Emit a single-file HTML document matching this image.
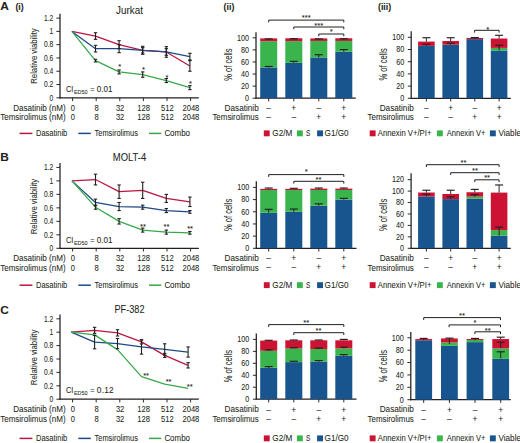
<!DOCTYPE html>
<html><head><meta charset="utf-8"><style>
html,body{margin:0;padding:0;background:#fff;}
svg{display:block;}
text{font-family:"Liberation Sans", sans-serif;fill:#231f20;stroke:#231f20;stroke-width:0.06px;}
</style></head><body>
<svg width="520" height="443" viewBox="0 0 520 443">
<rect width="520" height="443" fill="#fff"/>
<text x="0.20" y="10.10" font-size="10.6" text-anchor="start" font-weight="bold" textLength="8.6" lengthAdjust="spacingAndGlyphs">A</text>
<text x="15.40" y="9.60" font-size="8.8" text-anchor="start" font-weight="bold">(i)</text>
<text x="129.50" y="13.60" font-size="10.0" text-anchor="middle" textLength="26.8" lengthAdjust="spacingAndGlyphs">Jurkat</text>
<line x1="60.00" y1="13.80" x2="60.00" y2="98.40" stroke="#231f20" stroke-width="1.25"/>
<line x1="56.40" y1="97.80" x2="60.00" y2="97.80" stroke="#231f20" stroke-width="0.95"/>
<text x="53.30" y="100.60" font-size="8.2" text-anchor="end" textLength="3.73" lengthAdjust="spacingAndGlyphs">0</text>
<line x1="56.40" y1="84.52" x2="60.00" y2="84.52" stroke="#231f20" stroke-width="0.95"/>
<text x="53.30" y="87.32" font-size="8.2" text-anchor="end" textLength="9.31" lengthAdjust="spacingAndGlyphs">0.2</text>
<line x1="56.40" y1="71.24" x2="60.00" y2="71.24" stroke="#231f20" stroke-width="0.95"/>
<text x="53.30" y="74.04" font-size="8.2" text-anchor="end" textLength="9.31" lengthAdjust="spacingAndGlyphs">0.4</text>
<line x1="56.40" y1="57.96" x2="60.00" y2="57.96" stroke="#231f20" stroke-width="0.95"/>
<text x="53.30" y="60.76" font-size="8.2" text-anchor="end" textLength="9.31" lengthAdjust="spacingAndGlyphs">0.6</text>
<line x1="56.40" y1="44.68" x2="60.00" y2="44.68" stroke="#231f20" stroke-width="0.95"/>
<text x="53.30" y="47.48" font-size="8.2" text-anchor="end" textLength="9.31" lengthAdjust="spacingAndGlyphs">0.8</text>
<line x1="56.40" y1="31.40" x2="60.00" y2="31.40" stroke="#231f20" stroke-width="0.95"/>
<text x="53.30" y="34.20" font-size="8.2" text-anchor="end" textLength="3.73" lengthAdjust="spacingAndGlyphs">1</text>
<line x1="56.40" y1="18.12" x2="60.00" y2="18.12" stroke="#231f20" stroke-width="0.95"/>
<text x="53.30" y="20.92" font-size="8.2" text-anchor="end" textLength="9.31" lengthAdjust="spacingAndGlyphs">1.2</text>
<line x1="59.40" y1="97.80" x2="198.80" y2="97.80" stroke="#231f20" stroke-width="1.25"/>
<line x1="72.60" y1="97.80" x2="72.60" y2="101.00" stroke="#231f20" stroke-width="0.95"/>
<line x1="96.20" y1="97.80" x2="96.20" y2="101.00" stroke="#231f20" stroke-width="0.95"/>
<line x1="119.80" y1="97.80" x2="119.80" y2="101.00" stroke="#231f20" stroke-width="0.95"/>
<line x1="143.40" y1="97.80" x2="143.40" y2="101.00" stroke="#231f20" stroke-width="0.95"/>
<line x1="167.00" y1="97.80" x2="167.00" y2="101.00" stroke="#231f20" stroke-width="0.95"/>
<line x1="190.60" y1="97.80" x2="190.60" y2="101.00" stroke="#231f20" stroke-width="0.95"/>
<text transform="translate(37.00,56.00) rotate(-90)" font-size="8.6" text-anchor="middle" textLength="55.5" lengthAdjust="spacingAndGlyphs">Relative viability</text>
<text x="65.60" y="110.60" font-size="8.2" text-anchor="end" textLength="52.4" lengthAdjust="spacingAndGlyphs">Dasatinib (nM)</text>
<text x="65.60" y="120.40" font-size="8.2" text-anchor="end" textLength="65.4" lengthAdjust="spacingAndGlyphs">Temsirolimus (nM)</text>
<text x="72.90" y="110.60" font-size="8.2" text-anchor="middle" textLength="4.23" lengthAdjust="spacingAndGlyphs">0</text>
<text x="72.90" y="120.40" font-size="8.2" text-anchor="middle" textLength="4.23" lengthAdjust="spacingAndGlyphs">0</text>
<text x="96.50" y="110.60" font-size="8.2" text-anchor="middle" textLength="4.23" lengthAdjust="spacingAndGlyphs">8</text>
<text x="96.50" y="120.40" font-size="8.2" text-anchor="middle" textLength="4.23" lengthAdjust="spacingAndGlyphs">8</text>
<text x="120.10" y="110.60" font-size="8.2" text-anchor="middle" textLength="8.45" lengthAdjust="spacingAndGlyphs">32</text>
<text x="120.10" y="120.40" font-size="8.2" text-anchor="middle" textLength="8.45" lengthAdjust="spacingAndGlyphs">32</text>
<text x="143.70" y="110.60" font-size="8.2" text-anchor="middle" textLength="12.68" lengthAdjust="spacingAndGlyphs">128</text>
<text x="143.70" y="120.40" font-size="8.2" text-anchor="middle" textLength="12.68" lengthAdjust="spacingAndGlyphs">128</text>
<text x="167.30" y="110.60" font-size="8.2" text-anchor="middle" textLength="12.68" lengthAdjust="spacingAndGlyphs">512</text>
<text x="167.30" y="120.40" font-size="8.2" text-anchor="middle" textLength="12.68" lengthAdjust="spacingAndGlyphs">512</text>
<text x="190.90" y="110.60" font-size="8.2" text-anchor="middle" textLength="16.91" lengthAdjust="spacingAndGlyphs">2048</text>
<text x="190.90" y="120.40" font-size="8.2" text-anchor="middle" textLength="16.91" lengthAdjust="spacingAndGlyphs">2048</text>
<text x="65.90" y="92.00" font-size="8.3" text-anchor="start" textLength="7.3" lengthAdjust="spacingAndGlyphs">CI</text>
<text x="73.90" y="94.00" font-size="5.9" text-anchor="start" textLength="13.6" lengthAdjust="spacingAndGlyphs">ED50</text>
<text x="90.30" y="92.00" font-size="8.3" text-anchor="start" textLength="4.3" lengthAdjust="spacingAndGlyphs">=</text>
<text x="96.80" y="92.00" font-size="8.3" text-anchor="start" textLength="15.7" lengthAdjust="spacingAndGlyphs">0.01</text>
<polyline points="71.90,31.40 95.50,36.05 119.10,44.68 142.70,50.32 166.30,51.98 189.90,65.93" fill="none" stroke="#bd1640" stroke-width="1.25" stroke-linejoin="round"/>
<polyline points="71.90,31.40 95.50,48.66 119.10,48.66 142.70,50.32 166.30,51.98 189.90,56.63" fill="none" stroke="#1c4b82" stroke-width="1.25" stroke-linejoin="round"/>
<polyline points="71.90,31.40 95.50,60.62 119.10,71.90 142.70,74.56 166.30,80.54 189.90,87.64" fill="none" stroke="#36a84a" stroke-width="1.25" stroke-linejoin="round"/>
<line x1="95.50" y1="32.73" x2="95.50" y2="39.37" stroke="#231f20" stroke-width="1.1"/>
<line x1="93.80" y1="32.73" x2="97.20" y2="32.73" stroke="#231f20" stroke-width="1.1"/>
<line x1="93.80" y1="39.37" x2="97.20" y2="39.37" stroke="#231f20" stroke-width="1.1"/>
<line x1="119.10" y1="40.70" x2="119.10" y2="48.66" stroke="#231f20" stroke-width="1.1"/>
<line x1="117.40" y1="40.70" x2="120.80" y2="40.70" stroke="#231f20" stroke-width="1.1"/>
<line x1="117.40" y1="48.66" x2="120.80" y2="48.66" stroke="#231f20" stroke-width="1.1"/>
<line x1="142.70" y1="46.34" x2="142.70" y2="54.31" stroke="#231f20" stroke-width="1.1"/>
<line x1="141.00" y1="46.34" x2="144.40" y2="46.34" stroke="#231f20" stroke-width="1.1"/>
<line x1="141.00" y1="54.31" x2="144.40" y2="54.31" stroke="#231f20" stroke-width="1.1"/>
<line x1="166.30" y1="46.67" x2="166.30" y2="57.30" stroke="#231f20" stroke-width="1.1"/>
<line x1="164.60" y1="46.67" x2="168.00" y2="46.67" stroke="#231f20" stroke-width="1.1"/>
<line x1="164.60" y1="57.30" x2="168.00" y2="57.30" stroke="#231f20" stroke-width="1.1"/>
<line x1="189.90" y1="60.62" x2="189.90" y2="71.24" stroke="#231f20" stroke-width="1.1"/>
<line x1="188.20" y1="60.62" x2="191.60" y2="60.62" stroke="#231f20" stroke-width="1.1"/>
<line x1="188.20" y1="71.24" x2="191.60" y2="71.24" stroke="#231f20" stroke-width="1.1"/>
<line x1="95.50" y1="45.34" x2="95.50" y2="51.98" stroke="#231f20" stroke-width="1.1"/>
<line x1="93.80" y1="45.34" x2="97.20" y2="45.34" stroke="#231f20" stroke-width="1.1"/>
<line x1="93.80" y1="51.98" x2="97.20" y2="51.98" stroke="#231f20" stroke-width="1.1"/>
<line x1="119.10" y1="44.68" x2="119.10" y2="52.65" stroke="#231f20" stroke-width="1.1"/>
<line x1="117.40" y1="44.68" x2="120.80" y2="44.68" stroke="#231f20" stroke-width="1.1"/>
<line x1="117.40" y1="52.65" x2="120.80" y2="52.65" stroke="#231f20" stroke-width="1.1"/>
<line x1="142.70" y1="47.67" x2="142.70" y2="52.98" stroke="#231f20" stroke-width="1.1"/>
<line x1="141.00" y1="47.67" x2="144.40" y2="47.67" stroke="#231f20" stroke-width="1.1"/>
<line x1="141.00" y1="52.98" x2="144.40" y2="52.98" stroke="#231f20" stroke-width="1.1"/>
<line x1="166.30" y1="48.66" x2="166.30" y2="55.30" stroke="#231f20" stroke-width="1.1"/>
<line x1="164.60" y1="48.66" x2="168.00" y2="48.66" stroke="#231f20" stroke-width="1.1"/>
<line x1="164.60" y1="55.30" x2="168.00" y2="55.30" stroke="#231f20" stroke-width="1.1"/>
<line x1="189.90" y1="53.31" x2="189.90" y2="59.95" stroke="#231f20" stroke-width="1.1"/>
<line x1="188.20" y1="53.31" x2="191.60" y2="53.31" stroke="#231f20" stroke-width="1.1"/>
<line x1="188.20" y1="59.95" x2="191.60" y2="59.95" stroke="#231f20" stroke-width="1.1"/>
<line x1="95.50" y1="59.29" x2="95.50" y2="61.94" stroke="#231f20" stroke-width="1.1"/>
<line x1="93.80" y1="59.29" x2="97.20" y2="59.29" stroke="#231f20" stroke-width="1.1"/>
<line x1="93.80" y1="61.94" x2="97.20" y2="61.94" stroke="#231f20" stroke-width="1.1"/>
<line x1="119.10" y1="69.91" x2="119.10" y2="73.90" stroke="#231f20" stroke-width="1.1"/>
<line x1="117.40" y1="69.91" x2="120.80" y2="69.91" stroke="#231f20" stroke-width="1.1"/>
<line x1="117.40" y1="73.90" x2="120.80" y2="73.90" stroke="#231f20" stroke-width="1.1"/>
<line x1="142.70" y1="71.90" x2="142.70" y2="77.22" stroke="#231f20" stroke-width="1.1"/>
<line x1="141.00" y1="71.90" x2="144.40" y2="71.90" stroke="#231f20" stroke-width="1.1"/>
<line x1="141.00" y1="77.22" x2="144.40" y2="77.22" stroke="#231f20" stroke-width="1.1"/>
<line x1="166.30" y1="78.54" x2="166.30" y2="82.53" stroke="#231f20" stroke-width="1.1"/>
<line x1="164.60" y1="78.54" x2="168.00" y2="78.54" stroke="#231f20" stroke-width="1.1"/>
<line x1="164.60" y1="82.53" x2="168.00" y2="82.53" stroke="#231f20" stroke-width="1.1"/>
<line x1="189.90" y1="85.65" x2="189.90" y2="89.63" stroke="#231f20" stroke-width="1.1"/>
<line x1="188.20" y1="85.65" x2="191.60" y2="85.65" stroke="#231f20" stroke-width="1.1"/>
<line x1="188.20" y1="89.63" x2="191.60" y2="89.63" stroke="#231f20" stroke-width="1.1"/>
<text x="119.80" y="68.98" font-size="7.6" text-anchor="middle">*</text>
<text x="143.40" y="72.08" font-size="7.6" text-anchor="middle">*</text>
<text x="167.00" y="79.58" font-size="7.6" text-anchor="middle">*</text>
<text x="190.60" y="86.28" font-size="7.6" text-anchor="middle">*</text>
<line x1="19.50" y1="133.40" x2="32.40" y2="133.40" stroke="#bd1640" stroke-width="1.5"/>
<text x="36.00" y="136.20" font-size="8.2" text-anchor="start" textLength="31.3" lengthAdjust="spacingAndGlyphs">Dasatinib</text>
<line x1="78.30" y1="133.40" x2="90.80" y2="133.40" stroke="#1c4b82" stroke-width="1.5"/>
<text x="94.60" y="136.20" font-size="8.2" text-anchor="start" textLength="43.3" lengthAdjust="spacingAndGlyphs">Temsirolimus</text>
<line x1="149.00" y1="133.40" x2="161.30" y2="133.40" stroke="#36a84a" stroke-width="1.5"/>
<text x="164.40" y="136.20" font-size="8.2" text-anchor="start" textLength="25.6" lengthAdjust="spacingAndGlyphs">Combo</text>
<text x="0.20" y="161.30" font-size="10.6" text-anchor="start" font-weight="bold" textLength="8.6" lengthAdjust="spacingAndGlyphs">B</text>
<text x="129.50" y="160.90" font-size="10.0" text-anchor="middle" textLength="33.4" lengthAdjust="spacingAndGlyphs">MOLT-4</text>
<line x1="60.00" y1="163.04" x2="60.00" y2="248.90" stroke="#231f20" stroke-width="1.25"/>
<line x1="56.40" y1="248.30" x2="60.00" y2="248.30" stroke="#231f20" stroke-width="0.95"/>
<text x="53.30" y="251.10" font-size="8.2" text-anchor="end" textLength="3.73" lengthAdjust="spacingAndGlyphs">0</text>
<line x1="56.40" y1="234.82" x2="60.00" y2="234.82" stroke="#231f20" stroke-width="0.95"/>
<text x="53.30" y="237.62" font-size="8.2" text-anchor="end" textLength="9.31" lengthAdjust="spacingAndGlyphs">0.2</text>
<line x1="56.40" y1="221.34" x2="60.00" y2="221.34" stroke="#231f20" stroke-width="0.95"/>
<text x="53.30" y="224.14" font-size="8.2" text-anchor="end" textLength="9.31" lengthAdjust="spacingAndGlyphs">0.4</text>
<line x1="56.40" y1="207.86" x2="60.00" y2="207.86" stroke="#231f20" stroke-width="0.95"/>
<text x="53.30" y="210.66" font-size="8.2" text-anchor="end" textLength="9.31" lengthAdjust="spacingAndGlyphs">0.6</text>
<line x1="56.40" y1="194.38" x2="60.00" y2="194.38" stroke="#231f20" stroke-width="0.95"/>
<text x="53.30" y="197.18" font-size="8.2" text-anchor="end" textLength="9.31" lengthAdjust="spacingAndGlyphs">0.8</text>
<line x1="56.40" y1="180.90" x2="60.00" y2="180.90" stroke="#231f20" stroke-width="0.95"/>
<text x="53.30" y="183.70" font-size="8.2" text-anchor="end" textLength="3.73" lengthAdjust="spacingAndGlyphs">1</text>
<line x1="56.40" y1="167.42" x2="60.00" y2="167.42" stroke="#231f20" stroke-width="0.95"/>
<text x="53.30" y="170.22" font-size="8.2" text-anchor="end" textLength="9.31" lengthAdjust="spacingAndGlyphs">1.2</text>
<line x1="59.40" y1="248.30" x2="198.80" y2="248.30" stroke="#231f20" stroke-width="1.25"/>
<line x1="72.60" y1="248.30" x2="72.60" y2="251.50" stroke="#231f20" stroke-width="0.95"/>
<line x1="96.20" y1="248.30" x2="96.20" y2="251.50" stroke="#231f20" stroke-width="0.95"/>
<line x1="119.80" y1="248.30" x2="119.80" y2="251.50" stroke="#231f20" stroke-width="0.95"/>
<line x1="143.40" y1="248.30" x2="143.40" y2="251.50" stroke="#231f20" stroke-width="0.95"/>
<line x1="167.00" y1="248.30" x2="167.00" y2="251.50" stroke="#231f20" stroke-width="0.95"/>
<line x1="190.60" y1="248.30" x2="190.60" y2="251.50" stroke="#231f20" stroke-width="0.95"/>
<text transform="translate(37.00,206.50) rotate(-90)" font-size="8.6" text-anchor="middle" textLength="55.5" lengthAdjust="spacingAndGlyphs">Relative viability</text>
<text x="65.60" y="260.90" font-size="8.2" text-anchor="end" textLength="52.4" lengthAdjust="spacingAndGlyphs">Dasatinib (nM)</text>
<text x="65.60" y="270.70" font-size="8.2" text-anchor="end" textLength="65.4" lengthAdjust="spacingAndGlyphs">Temsirolimus (nM)</text>
<text x="72.90" y="260.90" font-size="8.2" text-anchor="middle" textLength="4.23" lengthAdjust="spacingAndGlyphs">0</text>
<text x="72.90" y="270.70" font-size="8.2" text-anchor="middle" textLength="4.23" lengthAdjust="spacingAndGlyphs">0</text>
<text x="96.50" y="260.90" font-size="8.2" text-anchor="middle" textLength="4.23" lengthAdjust="spacingAndGlyphs">8</text>
<text x="96.50" y="270.70" font-size="8.2" text-anchor="middle" textLength="4.23" lengthAdjust="spacingAndGlyphs">8</text>
<text x="120.10" y="260.90" font-size="8.2" text-anchor="middle" textLength="8.45" lengthAdjust="spacingAndGlyphs">32</text>
<text x="120.10" y="270.70" font-size="8.2" text-anchor="middle" textLength="8.45" lengthAdjust="spacingAndGlyphs">32</text>
<text x="143.70" y="260.90" font-size="8.2" text-anchor="middle" textLength="12.68" lengthAdjust="spacingAndGlyphs">128</text>
<text x="143.70" y="270.70" font-size="8.2" text-anchor="middle" textLength="12.68" lengthAdjust="spacingAndGlyphs">128</text>
<text x="167.30" y="260.90" font-size="8.2" text-anchor="middle" textLength="12.68" lengthAdjust="spacingAndGlyphs">512</text>
<text x="167.30" y="270.70" font-size="8.2" text-anchor="middle" textLength="12.68" lengthAdjust="spacingAndGlyphs">512</text>
<text x="190.90" y="260.90" font-size="8.2" text-anchor="middle" textLength="16.91" lengthAdjust="spacingAndGlyphs">2048</text>
<text x="190.90" y="270.70" font-size="8.2" text-anchor="middle" textLength="16.91" lengthAdjust="spacingAndGlyphs">2048</text>
<text x="65.90" y="242.50" font-size="8.3" text-anchor="start" textLength="7.3" lengthAdjust="spacingAndGlyphs">CI</text>
<text x="73.90" y="244.50" font-size="5.9" text-anchor="start" textLength="13.6" lengthAdjust="spacingAndGlyphs">ED50</text>
<text x="90.30" y="242.50" font-size="8.3" text-anchor="start" textLength="4.3" lengthAdjust="spacingAndGlyphs">=</text>
<text x="96.80" y="242.50" font-size="8.3" text-anchor="start" textLength="15.7" lengthAdjust="spacingAndGlyphs">0.01</text>
<polyline points="71.90,180.90 95.50,179.55 119.10,191.68 142.70,190.34 166.30,198.42 189.90,201.79" fill="none" stroke="#bd1640" stroke-width="1.25" stroke-linejoin="round"/>
<polyline points="71.90,180.90 95.50,202.47 119.10,206.51 142.70,207.19 166.30,210.56 189.90,211.90" fill="none" stroke="#1c4b82" stroke-width="1.25" stroke-linejoin="round"/>
<polyline points="71.90,180.90 95.50,207.19 119.10,221.34 142.70,230.10 166.30,232.12 189.90,232.80" fill="none" stroke="#36a84a" stroke-width="1.25" stroke-linejoin="round"/>
<line x1="95.50" y1="174.16" x2="95.50" y2="184.94" stroke="#231f20" stroke-width="1.1"/>
<line x1="93.80" y1="174.16" x2="97.20" y2="174.16" stroke="#231f20" stroke-width="1.1"/>
<line x1="93.80" y1="184.94" x2="97.20" y2="184.94" stroke="#231f20" stroke-width="1.1"/>
<line x1="119.10" y1="184.94" x2="119.10" y2="198.42" stroke="#231f20" stroke-width="1.1"/>
<line x1="117.40" y1="184.94" x2="120.80" y2="184.94" stroke="#231f20" stroke-width="1.1"/>
<line x1="117.40" y1="198.42" x2="120.80" y2="198.42" stroke="#231f20" stroke-width="1.1"/>
<line x1="142.70" y1="182.25" x2="142.70" y2="198.42" stroke="#231f20" stroke-width="1.1"/>
<line x1="141.00" y1="182.25" x2="144.40" y2="182.25" stroke="#231f20" stroke-width="1.1"/>
<line x1="141.00" y1="198.42" x2="144.40" y2="198.42" stroke="#231f20" stroke-width="1.1"/>
<line x1="166.30" y1="194.38" x2="166.30" y2="202.47" stroke="#231f20" stroke-width="1.1"/>
<line x1="164.60" y1="194.38" x2="168.00" y2="194.38" stroke="#231f20" stroke-width="1.1"/>
<line x1="164.60" y1="202.47" x2="168.00" y2="202.47" stroke="#231f20" stroke-width="1.1"/>
<line x1="189.90" y1="197.08" x2="189.90" y2="206.51" stroke="#231f20" stroke-width="1.1"/>
<line x1="188.20" y1="197.08" x2="191.60" y2="197.08" stroke="#231f20" stroke-width="1.1"/>
<line x1="188.20" y1="206.51" x2="191.60" y2="206.51" stroke="#231f20" stroke-width="1.1"/>
<line x1="95.50" y1="199.10" x2="95.50" y2="205.84" stroke="#231f20" stroke-width="1.1"/>
<line x1="93.80" y1="199.10" x2="97.20" y2="199.10" stroke="#231f20" stroke-width="1.1"/>
<line x1="93.80" y1="205.84" x2="97.20" y2="205.84" stroke="#231f20" stroke-width="1.1"/>
<line x1="119.10" y1="202.47" x2="119.10" y2="210.56" stroke="#231f20" stroke-width="1.1"/>
<line x1="117.40" y1="202.47" x2="120.80" y2="202.47" stroke="#231f20" stroke-width="1.1"/>
<line x1="117.40" y1="210.56" x2="120.80" y2="210.56" stroke="#231f20" stroke-width="1.1"/>
<line x1="142.70" y1="205.16" x2="142.70" y2="209.21" stroke="#231f20" stroke-width="1.1"/>
<line x1="141.00" y1="205.16" x2="144.40" y2="205.16" stroke="#231f20" stroke-width="1.1"/>
<line x1="141.00" y1="209.21" x2="144.40" y2="209.21" stroke="#231f20" stroke-width="1.1"/>
<line x1="166.30" y1="208.53" x2="166.30" y2="212.58" stroke="#231f20" stroke-width="1.1"/>
<line x1="164.60" y1="208.53" x2="168.00" y2="208.53" stroke="#231f20" stroke-width="1.1"/>
<line x1="164.60" y1="212.58" x2="168.00" y2="212.58" stroke="#231f20" stroke-width="1.1"/>
<line x1="189.90" y1="210.56" x2="189.90" y2="213.25" stroke="#231f20" stroke-width="1.1"/>
<line x1="188.20" y1="210.56" x2="191.60" y2="210.56" stroke="#231f20" stroke-width="1.1"/>
<line x1="188.20" y1="213.25" x2="191.60" y2="213.25" stroke="#231f20" stroke-width="1.1"/>
<line x1="95.50" y1="205.16" x2="95.50" y2="209.21" stroke="#231f20" stroke-width="1.1"/>
<line x1="93.80" y1="205.16" x2="97.20" y2="205.16" stroke="#231f20" stroke-width="1.1"/>
<line x1="93.80" y1="209.21" x2="97.20" y2="209.21" stroke="#231f20" stroke-width="1.1"/>
<line x1="119.10" y1="218.64" x2="119.10" y2="224.04" stroke="#231f20" stroke-width="1.1"/>
<line x1="117.40" y1="218.64" x2="120.80" y2="218.64" stroke="#231f20" stroke-width="1.1"/>
<line x1="117.40" y1="224.04" x2="120.80" y2="224.04" stroke="#231f20" stroke-width="1.1"/>
<line x1="142.70" y1="228.08" x2="142.70" y2="232.12" stroke="#231f20" stroke-width="1.1"/>
<line x1="141.00" y1="228.08" x2="144.40" y2="228.08" stroke="#231f20" stroke-width="1.1"/>
<line x1="141.00" y1="232.12" x2="144.40" y2="232.12" stroke="#231f20" stroke-width="1.1"/>
<line x1="166.30" y1="230.10" x2="166.30" y2="234.15" stroke="#231f20" stroke-width="1.1"/>
<line x1="164.60" y1="230.10" x2="168.00" y2="230.10" stroke="#231f20" stroke-width="1.1"/>
<line x1="164.60" y1="234.15" x2="168.00" y2="234.15" stroke="#231f20" stroke-width="1.1"/>
<line x1="189.90" y1="231.45" x2="189.90" y2="234.15" stroke="#231f20" stroke-width="1.1"/>
<line x1="188.20" y1="231.45" x2="191.60" y2="231.45" stroke="#231f20" stroke-width="1.1"/>
<line x1="188.20" y1="234.15" x2="191.60" y2="234.15" stroke="#231f20" stroke-width="1.1"/>
<text x="142.90" y="228.58" font-size="7.6" text-anchor="middle">**</text>
<text x="166.50" y="228.78" font-size="7.6" text-anchor="middle">**</text>
<text x="190.10" y="231.38" font-size="7.6" text-anchor="middle">**</text>
<line x1="19.50" y1="285.20" x2="32.40" y2="285.20" stroke="#bd1640" stroke-width="1.5"/>
<text x="36.00" y="288.00" font-size="8.2" text-anchor="start" textLength="31.3" lengthAdjust="spacingAndGlyphs">Dasatinib</text>
<line x1="78.30" y1="285.20" x2="90.80" y2="285.20" stroke="#1c4b82" stroke-width="1.5"/>
<text x="94.60" y="288.00" font-size="8.2" text-anchor="start" textLength="43.3" lengthAdjust="spacingAndGlyphs">Temsirolimus</text>
<line x1="149.00" y1="285.20" x2="161.30" y2="285.20" stroke="#36a84a" stroke-width="1.5"/>
<text x="164.40" y="288.00" font-size="8.2" text-anchor="start" textLength="25.6" lengthAdjust="spacingAndGlyphs">Combo</text>
<text x="0.20" y="313.90" font-size="10.6" text-anchor="start" font-weight="bold" textLength="8.6" lengthAdjust="spacingAndGlyphs">C</text>
<text x="129.50" y="312.70" font-size="10.0" text-anchor="middle" textLength="30.0" lengthAdjust="spacingAndGlyphs">PF-382</text>
<line x1="60.00" y1="314.44" x2="60.00" y2="399.80" stroke="#231f20" stroke-width="1.25"/>
<line x1="56.40" y1="399.20" x2="60.00" y2="399.20" stroke="#231f20" stroke-width="0.95"/>
<text x="53.30" y="402.00" font-size="8.2" text-anchor="end" textLength="3.73" lengthAdjust="spacingAndGlyphs">0</text>
<line x1="56.40" y1="385.80" x2="60.00" y2="385.80" stroke="#231f20" stroke-width="0.95"/>
<text x="53.30" y="388.60" font-size="8.2" text-anchor="end" textLength="9.31" lengthAdjust="spacingAndGlyphs">0.2</text>
<line x1="56.40" y1="372.40" x2="60.00" y2="372.40" stroke="#231f20" stroke-width="0.95"/>
<text x="53.30" y="375.20" font-size="8.2" text-anchor="end" textLength="9.31" lengthAdjust="spacingAndGlyphs">0.4</text>
<line x1="56.40" y1="359.00" x2="60.00" y2="359.00" stroke="#231f20" stroke-width="0.95"/>
<text x="53.30" y="361.80" font-size="8.2" text-anchor="end" textLength="9.31" lengthAdjust="spacingAndGlyphs">0.6</text>
<line x1="56.40" y1="345.60" x2="60.00" y2="345.60" stroke="#231f20" stroke-width="0.95"/>
<text x="53.30" y="348.40" font-size="8.2" text-anchor="end" textLength="9.31" lengthAdjust="spacingAndGlyphs">0.8</text>
<line x1="56.40" y1="332.20" x2="60.00" y2="332.20" stroke="#231f20" stroke-width="0.95"/>
<text x="53.30" y="335.00" font-size="8.2" text-anchor="end" textLength="3.73" lengthAdjust="spacingAndGlyphs">1</text>
<line x1="56.40" y1="318.80" x2="60.00" y2="318.80" stroke="#231f20" stroke-width="0.95"/>
<text x="53.30" y="321.60" font-size="8.2" text-anchor="end" textLength="9.31" lengthAdjust="spacingAndGlyphs">1.2</text>
<line x1="59.40" y1="399.20" x2="198.80" y2="399.20" stroke="#231f20" stroke-width="1.25"/>
<line x1="72.60" y1="399.20" x2="72.60" y2="402.40" stroke="#231f20" stroke-width="0.95"/>
<line x1="96.20" y1="399.20" x2="96.20" y2="402.40" stroke="#231f20" stroke-width="0.95"/>
<line x1="119.80" y1="399.20" x2="119.80" y2="402.40" stroke="#231f20" stroke-width="0.95"/>
<line x1="143.40" y1="399.20" x2="143.40" y2="402.40" stroke="#231f20" stroke-width="0.95"/>
<line x1="167.00" y1="399.20" x2="167.00" y2="402.40" stroke="#231f20" stroke-width="0.95"/>
<line x1="190.60" y1="399.20" x2="190.60" y2="402.40" stroke="#231f20" stroke-width="0.95"/>
<text transform="translate(37.00,357.40) rotate(-90)" font-size="8.6" text-anchor="middle" textLength="55.5" lengthAdjust="spacingAndGlyphs">Relative viability</text>
<text x="65.60" y="411.80" font-size="8.2" text-anchor="end" textLength="52.4" lengthAdjust="spacingAndGlyphs">Dasatinib (nM)</text>
<text x="65.60" y="421.60" font-size="8.2" text-anchor="end" textLength="65.4" lengthAdjust="spacingAndGlyphs">Temsirolimus (nM)</text>
<text x="72.90" y="411.80" font-size="8.2" text-anchor="middle" textLength="4.23" lengthAdjust="spacingAndGlyphs">0</text>
<text x="72.90" y="421.60" font-size="8.2" text-anchor="middle" textLength="4.23" lengthAdjust="spacingAndGlyphs">0</text>
<text x="96.50" y="411.80" font-size="8.2" text-anchor="middle" textLength="4.23" lengthAdjust="spacingAndGlyphs">8</text>
<text x="96.50" y="421.60" font-size="8.2" text-anchor="middle" textLength="4.23" lengthAdjust="spacingAndGlyphs">8</text>
<text x="120.10" y="411.80" font-size="8.2" text-anchor="middle" textLength="8.45" lengthAdjust="spacingAndGlyphs">32</text>
<text x="120.10" y="421.60" font-size="8.2" text-anchor="middle" textLength="8.45" lengthAdjust="spacingAndGlyphs">32</text>
<text x="143.70" y="411.80" font-size="8.2" text-anchor="middle" textLength="12.68" lengthAdjust="spacingAndGlyphs">128</text>
<text x="143.70" y="421.60" font-size="8.2" text-anchor="middle" textLength="12.68" lengthAdjust="spacingAndGlyphs">128</text>
<text x="167.30" y="411.80" font-size="8.2" text-anchor="middle" textLength="12.68" lengthAdjust="spacingAndGlyphs">512</text>
<text x="167.30" y="421.60" font-size="8.2" text-anchor="middle" textLength="12.68" lengthAdjust="spacingAndGlyphs">512</text>
<text x="190.90" y="411.80" font-size="8.2" text-anchor="middle" textLength="16.91" lengthAdjust="spacingAndGlyphs">2048</text>
<text x="190.90" y="421.60" font-size="8.2" text-anchor="middle" textLength="16.91" lengthAdjust="spacingAndGlyphs">2048</text>
<text x="65.90" y="393.40" font-size="8.3" text-anchor="start" textLength="7.3" lengthAdjust="spacingAndGlyphs">CI</text>
<text x="73.90" y="395.40" font-size="5.9" text-anchor="start" textLength="13.6" lengthAdjust="spacingAndGlyphs">ED50</text>
<text x="90.30" y="393.40" font-size="8.3" text-anchor="start" textLength="4.3" lengthAdjust="spacingAndGlyphs">=</text>
<text x="96.80" y="393.40" font-size="8.3" text-anchor="start" textLength="16.8" lengthAdjust="spacing">0.12</text>
<polyline points="71.20,332.20 94.60,330.32 117.50,332.87 141.50,341.91 164.70,355.38 188.10,365.30" fill="none" stroke="#bd1640" stroke-width="1.25" stroke-linejoin="round"/>
<polyline points="71.20,332.20 94.60,342.12 117.50,343.59 141.50,346.94 164.70,349.49 188.10,352.03" fill="none" stroke="#1c4b82" stroke-width="1.25" stroke-linejoin="round"/>
<polyline points="71.20,332.20 94.60,334.88 117.50,349.62 141.50,376.62 164.70,384.19 188.10,388.48" fill="none" stroke="#36a84a" stroke-width="1.25" stroke-linejoin="round"/>
<line x1="94.60" y1="327.31" x2="94.60" y2="333.34" stroke="#231f20" stroke-width="1.1"/>
<line x1="92.90" y1="327.31" x2="96.30" y2="327.31" stroke="#231f20" stroke-width="1.1"/>
<line x1="92.90" y1="333.34" x2="96.30" y2="333.34" stroke="#231f20" stroke-width="1.1"/>
<line x1="117.50" y1="329.72" x2="117.50" y2="336.02" stroke="#231f20" stroke-width="1.1"/>
<line x1="115.80" y1="329.72" x2="119.20" y2="329.72" stroke="#231f20" stroke-width="1.1"/>
<line x1="115.80" y1="336.02" x2="119.20" y2="336.02" stroke="#231f20" stroke-width="1.1"/>
<line x1="141.50" y1="339.90" x2="141.50" y2="343.93" stroke="#231f20" stroke-width="1.1"/>
<line x1="139.80" y1="339.90" x2="143.20" y2="339.90" stroke="#231f20" stroke-width="1.1"/>
<line x1="139.80" y1="343.93" x2="143.20" y2="343.93" stroke="#231f20" stroke-width="1.1"/>
<line x1="164.70" y1="353.37" x2="164.70" y2="357.39" stroke="#231f20" stroke-width="1.1"/>
<line x1="163.00" y1="353.37" x2="166.40" y2="353.37" stroke="#231f20" stroke-width="1.1"/>
<line x1="163.00" y1="357.39" x2="166.40" y2="357.39" stroke="#231f20" stroke-width="1.1"/>
<line x1="188.10" y1="362.62" x2="188.10" y2="367.98" stroke="#231f20" stroke-width="1.1"/>
<line x1="186.40" y1="362.62" x2="189.80" y2="362.62" stroke="#231f20" stroke-width="1.1"/>
<line x1="186.40" y1="367.98" x2="189.80" y2="367.98" stroke="#231f20" stroke-width="1.1"/>
<line x1="94.60" y1="335.42" x2="94.60" y2="348.82" stroke="#231f20" stroke-width="1.1"/>
<line x1="92.90" y1="335.42" x2="96.30" y2="335.42" stroke="#231f20" stroke-width="1.1"/>
<line x1="92.90" y1="348.82" x2="96.30" y2="348.82" stroke="#231f20" stroke-width="1.1"/>
<line x1="117.50" y1="338.50" x2="117.50" y2="348.68" stroke="#231f20" stroke-width="1.1"/>
<line x1="115.80" y1="338.50" x2="119.20" y2="338.50" stroke="#231f20" stroke-width="1.1"/>
<line x1="115.80" y1="348.68" x2="119.20" y2="348.68" stroke="#231f20" stroke-width="1.1"/>
<line x1="141.50" y1="339.77" x2="141.50" y2="354.11" stroke="#231f20" stroke-width="1.1"/>
<line x1="139.80" y1="339.77" x2="143.20" y2="339.77" stroke="#231f20" stroke-width="1.1"/>
<line x1="139.80" y1="354.11" x2="143.20" y2="354.11" stroke="#231f20" stroke-width="1.1"/>
<line x1="164.70" y1="343.79" x2="164.70" y2="355.18" stroke="#231f20" stroke-width="1.1"/>
<line x1="163.00" y1="343.79" x2="166.40" y2="343.79" stroke="#231f20" stroke-width="1.1"/>
<line x1="163.00" y1="355.18" x2="166.40" y2="355.18" stroke="#231f20" stroke-width="1.1"/>
<line x1="188.10" y1="346.94" x2="188.10" y2="357.12" stroke="#231f20" stroke-width="1.1"/>
<line x1="186.40" y1="346.94" x2="189.80" y2="346.94" stroke="#231f20" stroke-width="1.1"/>
<line x1="186.40" y1="357.12" x2="189.80" y2="357.12" stroke="#231f20" stroke-width="1.1"/>
<text x="146.10" y="378.18" font-size="7.6" text-anchor="middle">**</text>
<text x="168.60" y="384.18" font-size="7.6" text-anchor="middle">**</text>
<text x="189.70" y="389.28" font-size="7.6" text-anchor="middle">**</text>
<line x1="19.50" y1="438.40" x2="32.40" y2="438.40" stroke="#bd1640" stroke-width="1.5"/>
<text x="36.00" y="441.20" font-size="8.2" text-anchor="start" textLength="31.3" lengthAdjust="spacingAndGlyphs">Dasatinib</text>
<line x1="78.30" y1="438.40" x2="90.80" y2="438.40" stroke="#1c4b82" stroke-width="1.5"/>
<text x="94.60" y="441.20" font-size="8.2" text-anchor="start" textLength="43.3" lengthAdjust="spacingAndGlyphs">Temsirolimus</text>
<line x1="149.00" y1="438.40" x2="161.30" y2="438.40" stroke="#36a84a" stroke-width="1.5"/>
<text x="164.40" y="441.20" font-size="8.2" text-anchor="start" textLength="25.6" lengthAdjust="spacingAndGlyphs">Combo</text>
<text x="223.60" y="9.60" font-size="8.8" text-anchor="start" font-weight="bold">(ii)</text>
<line x1="256.00" y1="32.30" x2="256.00" y2="98.80" stroke="#231f20" stroke-width="1.25"/>
<line x1="252.60" y1="98.20" x2="256.00" y2="98.20" stroke="#231f20" stroke-width="0.95"/>
<text x="249.00" y="101.00" font-size="8.2" text-anchor="end" textLength="4.0" lengthAdjust="spacingAndGlyphs">0</text>
<line x1="252.60" y1="86.12" x2="256.00" y2="86.12" stroke="#231f20" stroke-width="0.95"/>
<text x="249.00" y="88.92" font-size="8.2" text-anchor="end" textLength="8.01" lengthAdjust="spacingAndGlyphs">20</text>
<line x1="252.60" y1="74.04" x2="256.00" y2="74.04" stroke="#231f20" stroke-width="0.95"/>
<text x="249.00" y="76.84" font-size="8.2" text-anchor="end" textLength="8.01" lengthAdjust="spacingAndGlyphs">40</text>
<line x1="252.60" y1="61.96" x2="256.00" y2="61.96" stroke="#231f20" stroke-width="0.95"/>
<text x="249.00" y="64.76" font-size="8.2" text-anchor="end" textLength="8.01" lengthAdjust="spacingAndGlyphs">60</text>
<line x1="252.60" y1="49.88" x2="256.00" y2="49.88" stroke="#231f20" stroke-width="0.95"/>
<text x="249.00" y="52.68" font-size="8.2" text-anchor="end" textLength="8.01" lengthAdjust="spacingAndGlyphs">80</text>
<line x1="252.60" y1="37.80" x2="256.00" y2="37.80" stroke="#231f20" stroke-width="0.95"/>
<text x="249.00" y="40.60" font-size="8.2" text-anchor="end" textLength="12.01" lengthAdjust="spacingAndGlyphs">100</text>
<line x1="255.40" y1="98.20" x2="355.80" y2="98.20" stroke="#231f20" stroke-width="1.25"/>
<text transform="translate(231.70,64.60) rotate(-90)" font-size="10.0" text-anchor="middle" textLength="32.2" lengthAdjust="spacingAndGlyphs">% of cells</text>
<line x1="268.70" y1="98.20" x2="268.70" y2="101.40" stroke="#231f20" stroke-width="0.95"/>
<rect x="260.20" y="67.40" width="17.00" height="30.80" fill="#18548e"/>
<rect x="260.20" y="41.24" width="17.00" height="26.15" fill="#3ab54e"/>
<rect x="260.20" y="38.40" width="17.00" height="2.84" fill="#cd1333"/>
<line x1="293.80" y1="98.20" x2="293.80" y2="101.40" stroke="#231f20" stroke-width="0.95"/>
<rect x="285.30" y="62.87" width="17.00" height="35.33" fill="#18548e"/>
<rect x="285.30" y="41.12" width="17.00" height="21.74" fill="#3ab54e"/>
<rect x="285.30" y="38.28" width="17.00" height="2.84" fill="#cd1333"/>
<line x1="318.80" y1="98.20" x2="318.80" y2="101.40" stroke="#231f20" stroke-width="0.95"/>
<rect x="310.30" y="57.43" width="17.00" height="40.77" fill="#18548e"/>
<rect x="310.30" y="40.94" width="17.00" height="16.49" fill="#3ab54e"/>
<rect x="310.30" y="38.40" width="17.00" height="2.54" fill="#cd1333"/>
<line x1="343.80" y1="98.20" x2="343.80" y2="101.40" stroke="#231f20" stroke-width="0.95"/>
<rect x="335.30" y="51.69" width="17.00" height="46.51" fill="#18548e"/>
<rect x="335.30" y="40.94" width="17.00" height="10.75" fill="#3ab54e"/>
<rect x="335.30" y="38.28" width="17.00" height="2.66" fill="#cd1333"/>
<line x1="268.70" y1="38.89" x2="268.70" y2="39.91" stroke="#231f20" stroke-width="0.95"/>
<line x1="264.70" y1="38.89" x2="272.70" y2="38.89" stroke="#231f20" stroke-width="1.15"/>
<line x1="268.70" y1="66.49" x2="268.70" y2="67.40" stroke="#231f20" stroke-width="0.95"/>
<line x1="264.70" y1="66.49" x2="272.70" y2="66.49" stroke="#231f20" stroke-width="1.15"/>
<line x1="293.80" y1="38.71" x2="293.80" y2="39.91" stroke="#231f20" stroke-width="0.95"/>
<line x1="289.80" y1="38.71" x2="297.80" y2="38.71" stroke="#231f20" stroke-width="1.15"/>
<line x1="293.80" y1="61.36" x2="293.80" y2="62.87" stroke="#231f20" stroke-width="0.95"/>
<line x1="289.80" y1="61.36" x2="297.80" y2="61.36" stroke="#231f20" stroke-width="1.15"/>
<line x1="318.80" y1="38.89" x2="318.80" y2="39.91" stroke="#231f20" stroke-width="0.95"/>
<line x1="314.80" y1="38.89" x2="322.80" y2="38.89" stroke="#231f20" stroke-width="1.15"/>
<line x1="318.80" y1="54.71" x2="318.80" y2="57.43" stroke="#231f20" stroke-width="0.95"/>
<line x1="314.80" y1="54.71" x2="322.80" y2="54.71" stroke="#231f20" stroke-width="1.15"/>
<line x1="343.80" y1="38.71" x2="343.80" y2="39.91" stroke="#231f20" stroke-width="0.95"/>
<line x1="339.80" y1="38.71" x2="347.80" y2="38.71" stroke="#231f20" stroke-width="1.15"/>
<line x1="343.80" y1="49.58" x2="343.80" y2="51.69" stroke="#231f20" stroke-width="0.95"/>
<line x1="339.80" y1="49.58" x2="347.80" y2="49.58" stroke="#231f20" stroke-width="1.15"/>
<polyline points="268.70,22.40 268.70,20.10 343.80,20.10 343.80,22.40" fill="none" stroke="#231f20" stroke-width="1.0"/>
<text x="306.20" y="20.38" font-size="7.6" text-anchor="middle">***</text>
<polyline points="293.80,29.30 293.80,27.00 343.80,27.00 343.80,29.30" fill="none" stroke="#231f20" stroke-width="1.0"/>
<text x="318.80" y="27.68" font-size="7.6" text-anchor="middle">***</text>
<polyline points="318.80,36.30 318.80,34.00 343.80,34.00 343.80,36.30" fill="none" stroke="#231f20" stroke-width="1.0"/>
<text x="331.20" y="34.18" font-size="7.6" text-anchor="middle">*</text>
<text x="258.70" y="110.50" font-size="8.2" text-anchor="end" textLength="34.1" lengthAdjust="spacingAndGlyphs">Dasatinib</text>
<text x="258.70" y="120.30" font-size="8.2" text-anchor="end" textLength="46.3" lengthAdjust="spacingAndGlyphs">Temsirolimus</text>
<text x="268.70" y="110.50" font-size="8.4" text-anchor="middle">–</text>
<text x="268.70" y="120.00" font-size="8.4" text-anchor="middle">–</text>
<text x="293.80" y="110.50" font-size="8.4" text-anchor="middle">+</text>
<text x="293.80" y="120.00" font-size="8.4" text-anchor="middle">–</text>
<text x="318.80" y="110.50" font-size="8.4" text-anchor="middle">–</text>
<text x="318.80" y="120.00" font-size="8.4" text-anchor="middle">+</text>
<text x="343.80" y="110.50" font-size="8.4" text-anchor="middle">+</text>
<text x="343.80" y="120.00" font-size="8.4" text-anchor="middle">+</text>
<rect x="263.80" y="130.40" width="5.90" height="5.90" fill="#cd1333"/>
<text x="272.30" y="136.00" font-size="8.2" text-anchor="start" textLength="20.0" lengthAdjust="spacingAndGlyphs">G2/M</text>
<rect x="296.90" y="130.40" width="5.90" height="5.90" fill="#3ab54e"/>
<text x="306.00" y="136.00" font-size="8.2" text-anchor="start" textLength="4.4" lengthAdjust="spacingAndGlyphs">S</text>
<rect x="317.10" y="130.40" width="5.90" height="5.90" fill="#18548e"/>
<text x="324.60" y="136.00" font-size="8.2" text-anchor="start" textLength="24.0" lengthAdjust="spacingAndGlyphs">G1/G0</text>
<text x="378.00" y="9.60" font-size="8.8" text-anchor="start" font-weight="bold">(iii)</text>
<line x1="411.20" y1="31.30" x2="411.20" y2="98.90" stroke="#231f20" stroke-width="1.25"/>
<line x1="407.80" y1="98.30" x2="411.20" y2="98.30" stroke="#231f20" stroke-width="0.95"/>
<text x="404.20" y="101.10" font-size="8.2" text-anchor="end" textLength="4.0" lengthAdjust="spacingAndGlyphs">0</text>
<line x1="407.80" y1="86.10" x2="411.20" y2="86.10" stroke="#231f20" stroke-width="0.95"/>
<text x="404.20" y="88.90" font-size="8.2" text-anchor="end" textLength="8.01" lengthAdjust="spacingAndGlyphs">20</text>
<line x1="407.80" y1="73.90" x2="411.20" y2="73.90" stroke="#231f20" stroke-width="0.95"/>
<text x="404.20" y="76.70" font-size="8.2" text-anchor="end" textLength="8.01" lengthAdjust="spacingAndGlyphs">40</text>
<line x1="407.80" y1="61.70" x2="411.20" y2="61.70" stroke="#231f20" stroke-width="0.95"/>
<text x="404.20" y="64.50" font-size="8.2" text-anchor="end" textLength="8.01" lengthAdjust="spacingAndGlyphs">60</text>
<line x1="407.80" y1="49.50" x2="411.20" y2="49.50" stroke="#231f20" stroke-width="0.95"/>
<text x="404.20" y="52.30" font-size="8.2" text-anchor="end" textLength="8.01" lengthAdjust="spacingAndGlyphs">80</text>
<line x1="407.80" y1="37.30" x2="411.20" y2="37.30" stroke="#231f20" stroke-width="0.95"/>
<text x="404.20" y="40.10" font-size="8.2" text-anchor="end" textLength="12.01" lengthAdjust="spacingAndGlyphs">100</text>
<line x1="410.60" y1="98.30" x2="510.80" y2="98.30" stroke="#231f20" stroke-width="1.25"/>
<text transform="translate(386.50,64.40) rotate(-90)" font-size="10.0" text-anchor="middle" textLength="32.2" lengthAdjust="spacingAndGlyphs">% of cells</text>
<line x1="426.40" y1="98.30" x2="426.40" y2="101.50" stroke="#231f20" stroke-width="0.95"/>
<rect x="418.10" y="45.84" width="16.60" height="52.46" fill="#18548e"/>
<rect x="418.10" y="41.57" width="16.60" height="4.27" fill="#cd1333"/>
<line x1="450.70" y1="98.30" x2="450.70" y2="101.50" stroke="#231f20" stroke-width="0.95"/>
<rect x="442.40" y="44.62" width="16.60" height="53.68" fill="#18548e"/>
<rect x="442.40" y="40.96" width="16.60" height="3.66" fill="#cd1333"/>
<line x1="474.80" y1="98.30" x2="474.80" y2="101.50" stroke="#231f20" stroke-width="0.95"/>
<rect x="466.50" y="39.13" width="16.60" height="59.17" fill="#18548e"/>
<rect x="466.50" y="37.91" width="16.60" height="1.22" fill="#cd1333"/>
<line x1="499.10" y1="98.30" x2="499.10" y2="101.50" stroke="#231f20" stroke-width="0.95"/>
<rect x="490.80" y="50.54" width="16.60" height="47.76" fill="#18548e"/>
<rect x="490.80" y="47.91" width="16.60" height="2.62" fill="#3ab54e"/>
<rect x="490.80" y="38.52" width="16.60" height="9.39" fill="#cd1333"/>
<line x1="426.40" y1="37.73" x2="426.40" y2="41.57" stroke="#231f20" stroke-width="0.95"/>
<line x1="422.40" y1="37.73" x2="430.40" y2="37.73" stroke="#231f20" stroke-width="1.15"/>
<line x1="426.40" y1="44.31" x2="426.40" y2="45.84" stroke="#231f20" stroke-width="0.95"/>
<line x1="422.40" y1="44.31" x2="430.40" y2="44.31" stroke="#231f20" stroke-width="1.15"/>
<line x1="450.70" y1="37.73" x2="450.70" y2="40.96" stroke="#231f20" stroke-width="0.95"/>
<line x1="446.70" y1="37.73" x2="454.70" y2="37.73" stroke="#231f20" stroke-width="1.15"/>
<line x1="450.70" y1="43.22" x2="450.70" y2="44.62" stroke="#231f20" stroke-width="0.95"/>
<line x1="446.70" y1="43.22" x2="454.70" y2="43.22" stroke="#231f20" stroke-width="1.15"/>
<line x1="474.80" y1="37.60" x2="474.80" y2="38.82" stroke="#231f20" stroke-width="0.95"/>
<line x1="470.80" y1="37.60" x2="478.80" y2="37.60" stroke="#231f20" stroke-width="1.15"/>
<line x1="499.10" y1="35.29" x2="499.10" y2="38.52" stroke="#231f20" stroke-width="0.95"/>
<line x1="495.10" y1="35.29" x2="503.10" y2="35.29" stroke="#231f20" stroke-width="1.15"/>
<line x1="499.10" y1="45.23" x2="499.10" y2="50.54" stroke="#231f20" stroke-width="0.95"/>
<line x1="495.10" y1="45.23" x2="503.10" y2="45.23" stroke="#231f20" stroke-width="1.15"/>
<polyline points="474.60,32.60 474.60,30.30 499.10,30.30 499.10,32.60" fill="none" stroke="#231f20" stroke-width="1.0"/>
<text x="487.70" y="32.18" font-size="7.6" text-anchor="middle">*</text>
<text x="413.80" y="110.50" font-size="8.2" text-anchor="end" textLength="34.1" lengthAdjust="spacingAndGlyphs">Dasatinib</text>
<text x="413.80" y="120.30" font-size="8.2" text-anchor="end" textLength="46.3" lengthAdjust="spacingAndGlyphs">Temsirolimus</text>
<text x="426.40" y="110.50" font-size="8.4" text-anchor="middle">–</text>
<text x="426.40" y="120.00" font-size="8.4" text-anchor="middle">–</text>
<text x="450.70" y="110.50" font-size="8.4" text-anchor="middle">+</text>
<text x="450.70" y="120.00" font-size="8.4" text-anchor="middle">–</text>
<text x="474.80" y="110.50" font-size="8.4" text-anchor="middle">–</text>
<text x="474.80" y="120.00" font-size="8.4" text-anchor="middle">+</text>
<text x="499.10" y="110.50" font-size="8.4" text-anchor="middle">+</text>
<text x="499.10" y="120.00" font-size="8.4" text-anchor="middle">+</text>
<rect x="369.70" y="130.40" width="5.90" height="5.90" fill="#cd1333"/>
<text x="377.80" y="136.00" font-size="8.2" text-anchor="start" textLength="53.6" lengthAdjust="spacingAndGlyphs">Annexin V+/PI+</text>
<rect x="436.90" y="130.40" width="5.90" height="5.90" fill="#3ab54e"/>
<text x="446.80" y="136.00" font-size="8.2" text-anchor="start" textLength="38.7" lengthAdjust="spacingAndGlyphs">Annexin V+</text>
<rect x="489.90" y="130.40" width="5.90" height="5.90" fill="#18548e"/>
<text x="498.50" y="136.00" font-size="8.2" text-anchor="start" textLength="22.5" lengthAdjust="spacingAndGlyphs">Viable</text>
<line x1="256.30" y1="181.30" x2="256.30" y2="248.90" stroke="#231f20" stroke-width="1.25"/>
<line x1="252.90" y1="248.30" x2="256.30" y2="248.30" stroke="#231f20" stroke-width="0.95"/>
<text x="249.30" y="251.10" font-size="8.2" text-anchor="end" textLength="4.0" lengthAdjust="spacingAndGlyphs">0</text>
<line x1="252.90" y1="236.12" x2="256.30" y2="236.12" stroke="#231f20" stroke-width="0.95"/>
<text x="249.30" y="238.92" font-size="8.2" text-anchor="end" textLength="8.01" lengthAdjust="spacingAndGlyphs">20</text>
<line x1="252.90" y1="223.94" x2="256.30" y2="223.94" stroke="#231f20" stroke-width="0.95"/>
<text x="249.30" y="226.74" font-size="8.2" text-anchor="end" textLength="8.01" lengthAdjust="spacingAndGlyphs">40</text>
<line x1="252.90" y1="211.76" x2="256.30" y2="211.76" stroke="#231f20" stroke-width="0.95"/>
<text x="249.30" y="214.56" font-size="8.2" text-anchor="end" textLength="8.01" lengthAdjust="spacingAndGlyphs">60</text>
<line x1="252.90" y1="199.58" x2="256.30" y2="199.58" stroke="#231f20" stroke-width="0.95"/>
<text x="249.30" y="202.38" font-size="8.2" text-anchor="end" textLength="8.01" lengthAdjust="spacingAndGlyphs">80</text>
<line x1="252.90" y1="187.40" x2="256.30" y2="187.40" stroke="#231f20" stroke-width="0.95"/>
<text x="249.30" y="190.20" font-size="8.2" text-anchor="end" textLength="12.01" lengthAdjust="spacingAndGlyphs">100</text>
<line x1="255.70" y1="248.30" x2="356.50" y2="248.30" stroke="#231f20" stroke-width="1.25"/>
<text transform="translate(231.70,214.90) rotate(-90)" font-size="10.0" text-anchor="middle" textLength="32.2" lengthAdjust="spacingAndGlyphs">% of cells</text>
<line x1="268.70" y1="248.30" x2="268.70" y2="251.50" stroke="#231f20" stroke-width="0.95"/>
<rect x="260.20" y="212.80" width="17.00" height="35.50" fill="#18548e"/>
<rect x="260.20" y="190.08" width="17.00" height="22.72" fill="#3ab54e"/>
<rect x="260.20" y="188.86" width="17.00" height="1.22" fill="#cd1333"/>
<line x1="293.80" y1="248.30" x2="293.80" y2="251.50" stroke="#231f20" stroke-width="0.95"/>
<rect x="285.30" y="211.76" width="17.00" height="36.54" fill="#18548e"/>
<rect x="285.30" y="190.08" width="17.00" height="21.68" fill="#3ab54e"/>
<rect x="285.30" y="188.86" width="17.00" height="1.22" fill="#cd1333"/>
<line x1="318.80" y1="248.30" x2="318.80" y2="251.50" stroke="#231f20" stroke-width="0.95"/>
<rect x="310.30" y="205.67" width="17.00" height="42.63" fill="#18548e"/>
<rect x="310.30" y="189.96" width="17.00" height="15.71" fill="#3ab54e"/>
<rect x="310.30" y="188.62" width="17.00" height="1.34" fill="#cd1333"/>
<line x1="343.80" y1="248.30" x2="343.80" y2="251.50" stroke="#231f20" stroke-width="0.95"/>
<rect x="335.30" y="199.58" width="17.00" height="48.72" fill="#18548e"/>
<rect x="335.30" y="189.96" width="17.00" height="9.62" fill="#3ab54e"/>
<rect x="335.30" y="188.62" width="17.00" height="1.34" fill="#cd1333"/>
<line x1="268.70" y1="188.01" x2="268.70" y2="189.23" stroke="#231f20" stroke-width="0.95"/>
<line x1="264.70" y1="188.01" x2="272.70" y2="188.01" stroke="#231f20" stroke-width="1.15"/>
<line x1="268.70" y1="209.32" x2="268.70" y2="212.80" stroke="#231f20" stroke-width="0.95"/>
<line x1="264.70" y1="209.32" x2="272.70" y2="209.32" stroke="#231f20" stroke-width="1.15"/>
<line x1="293.80" y1="188.31" x2="293.80" y2="189.23" stroke="#231f20" stroke-width="0.95"/>
<line x1="289.80" y1="188.31" x2="297.80" y2="188.31" stroke="#231f20" stroke-width="1.15"/>
<line x1="293.80" y1="209.02" x2="293.80" y2="211.76" stroke="#231f20" stroke-width="0.95"/>
<line x1="289.80" y1="209.02" x2="297.80" y2="209.02" stroke="#231f20" stroke-width="1.15"/>
<line x1="318.80" y1="188.01" x2="318.80" y2="189.23" stroke="#231f20" stroke-width="0.95"/>
<line x1="314.80" y1="188.01" x2="322.80" y2="188.01" stroke="#231f20" stroke-width="1.15"/>
<line x1="318.80" y1="203.84" x2="318.80" y2="205.67" stroke="#231f20" stroke-width="0.95"/>
<line x1="314.80" y1="203.84" x2="322.80" y2="203.84" stroke="#231f20" stroke-width="1.15"/>
<line x1="343.80" y1="188.01" x2="343.80" y2="189.23" stroke="#231f20" stroke-width="0.95"/>
<line x1="339.80" y1="188.01" x2="347.80" y2="188.01" stroke="#231f20" stroke-width="1.15"/>
<line x1="343.80" y1="198.36" x2="343.80" y2="199.58" stroke="#231f20" stroke-width="0.95"/>
<line x1="339.80" y1="198.36" x2="347.80" y2="198.36" stroke="#231f20" stroke-width="1.15"/>
<polyline points="268.70,176.90 268.70,174.60 343.80,174.60 343.80,176.90" fill="none" stroke="#231f20" stroke-width="1.0"/>
<text x="306.20" y="173.88" font-size="7.6" text-anchor="middle">*</text>
<polyline points="293.80,183.60 293.80,181.30 343.80,181.30 343.80,183.60" fill="none" stroke="#231f20" stroke-width="1.0"/>
<text x="318.40" y="182.08" font-size="7.6" text-anchor="middle">**</text>
<text x="258.70" y="260.80" font-size="8.2" text-anchor="end" textLength="34.1" lengthAdjust="spacingAndGlyphs">Dasatinib</text>
<text x="258.70" y="270.60" font-size="8.2" text-anchor="end" textLength="46.3" lengthAdjust="spacingAndGlyphs">Temsirolimus</text>
<text x="268.70" y="260.80" font-size="8.4" text-anchor="middle">–</text>
<text x="268.70" y="270.30" font-size="8.4" text-anchor="middle">–</text>
<text x="293.80" y="260.80" font-size="8.4" text-anchor="middle">+</text>
<text x="293.80" y="270.30" font-size="8.4" text-anchor="middle">–</text>
<text x="318.80" y="260.80" font-size="8.4" text-anchor="middle">–</text>
<text x="318.80" y="270.30" font-size="8.4" text-anchor="middle">+</text>
<text x="343.80" y="260.80" font-size="8.4" text-anchor="middle">+</text>
<text x="343.80" y="270.30" font-size="8.4" text-anchor="middle">+</text>
<rect x="263.80" y="282.20" width="5.90" height="5.90" fill="#cd1333"/>
<text x="272.30" y="287.80" font-size="8.2" text-anchor="start" textLength="20.0" lengthAdjust="spacingAndGlyphs">G2/M</text>
<rect x="296.90" y="282.20" width="5.90" height="5.90" fill="#3ab54e"/>
<text x="306.00" y="287.80" font-size="8.2" text-anchor="start" textLength="4.4" lengthAdjust="spacingAndGlyphs">S</text>
<rect x="317.10" y="282.20" width="5.90" height="5.90" fill="#18548e"/>
<text x="324.60" y="287.80" font-size="8.2" text-anchor="start" textLength="24.0" lengthAdjust="spacingAndGlyphs">G1/G0</text>
<line x1="411.10" y1="173.20" x2="411.10" y2="248.90" stroke="#231f20" stroke-width="1.25"/>
<line x1="407.70" y1="248.30" x2="411.10" y2="248.30" stroke="#231f20" stroke-width="0.95"/>
<text x="404.10" y="251.10" font-size="8.2" text-anchor="end" textLength="4.0" lengthAdjust="spacingAndGlyphs">0</text>
<line x1="407.70" y1="236.86" x2="411.10" y2="236.86" stroke="#231f20" stroke-width="0.95"/>
<text x="404.10" y="239.66" font-size="8.2" text-anchor="end" textLength="8.01" lengthAdjust="spacingAndGlyphs">20</text>
<line x1="407.70" y1="225.42" x2="411.10" y2="225.42" stroke="#231f20" stroke-width="0.95"/>
<text x="404.10" y="228.22" font-size="8.2" text-anchor="end" textLength="8.01" lengthAdjust="spacingAndGlyphs">40</text>
<line x1="407.70" y1="213.98" x2="411.10" y2="213.98" stroke="#231f20" stroke-width="0.95"/>
<text x="404.10" y="216.78" font-size="8.2" text-anchor="end" textLength="8.01" lengthAdjust="spacingAndGlyphs">60</text>
<line x1="407.70" y1="202.54" x2="411.10" y2="202.54" stroke="#231f20" stroke-width="0.95"/>
<text x="404.10" y="205.34" font-size="8.2" text-anchor="end" textLength="8.01" lengthAdjust="spacingAndGlyphs">80</text>
<line x1="407.70" y1="191.10" x2="411.10" y2="191.10" stroke="#231f20" stroke-width="0.95"/>
<text x="404.10" y="193.90" font-size="8.2" text-anchor="end" textLength="12.01" lengthAdjust="spacingAndGlyphs">100</text>
<line x1="407.70" y1="179.66" x2="411.10" y2="179.66" stroke="#231f20" stroke-width="0.95"/>
<text x="404.10" y="182.46" font-size="8.2" text-anchor="end" textLength="12.01" lengthAdjust="spacingAndGlyphs">120</text>
<line x1="410.50" y1="248.30" x2="510.80" y2="248.30" stroke="#231f20" stroke-width="1.25"/>
<text transform="translate(386.50,214.90) rotate(-90)" font-size="10.0" text-anchor="middle" textLength="32.2" lengthAdjust="spacingAndGlyphs">% of cells</text>
<line x1="426.40" y1="248.30" x2="426.40" y2="251.50" stroke="#231f20" stroke-width="0.95"/>
<rect x="418.10" y="196.48" width="16.60" height="51.82" fill="#18548e"/>
<rect x="418.10" y="192.53" width="16.60" height="3.95" fill="#cd1333"/>
<line x1="450.70" y1="248.30" x2="450.70" y2="251.50" stroke="#231f20" stroke-width="0.95"/>
<rect x="442.40" y="199.11" width="16.60" height="49.19" fill="#18548e"/>
<rect x="442.40" y="193.96" width="16.60" height="5.15" fill="#cd1333"/>
<line x1="474.80" y1="248.30" x2="474.80" y2="251.50" stroke="#231f20" stroke-width="0.95"/>
<rect x="466.50" y="198.71" width="16.60" height="49.59" fill="#18548e"/>
<rect x="466.50" y="196.59" width="16.60" height="2.12" fill="#3ab54e"/>
<rect x="466.50" y="192.24" width="16.60" height="4.35" fill="#cd1333"/>
<line x1="499.10" y1="248.30" x2="499.10" y2="251.50" stroke="#231f20" stroke-width="0.95"/>
<rect x="490.80" y="235.60" width="16.60" height="12.70" fill="#18548e"/>
<rect x="490.80" y="230.11" width="16.60" height="5.49" fill="#3ab54e"/>
<rect x="490.80" y="192.59" width="16.60" height="37.52" fill="#cd1333"/>
<line x1="426.40" y1="190.24" x2="426.40" y2="192.53" stroke="#231f20" stroke-width="0.95"/>
<line x1="422.40" y1="190.24" x2="430.40" y2="190.24" stroke="#231f20" stroke-width="1.15"/>
<line x1="426.40" y1="194.19" x2="426.40" y2="196.48" stroke="#231f20" stroke-width="0.95"/>
<line x1="422.40" y1="194.19" x2="430.40" y2="194.19" stroke="#231f20" stroke-width="1.15"/>
<line x1="450.70" y1="190.24" x2="450.70" y2="193.96" stroke="#231f20" stroke-width="0.95"/>
<line x1="446.70" y1="190.24" x2="454.70" y2="190.24" stroke="#231f20" stroke-width="1.15"/>
<line x1="450.70" y1="196.82" x2="450.70" y2="199.11" stroke="#231f20" stroke-width="0.95"/>
<line x1="446.70" y1="196.82" x2="454.70" y2="196.82" stroke="#231f20" stroke-width="1.15"/>
<line x1="474.80" y1="189.38" x2="474.80" y2="192.24" stroke="#231f20" stroke-width="0.95"/>
<line x1="470.80" y1="189.38" x2="478.80" y2="189.38" stroke="#231f20" stroke-width="1.15"/>
<line x1="474.80" y1="194.70" x2="474.80" y2="196.59" stroke="#231f20" stroke-width="0.95"/>
<line x1="470.80" y1="194.70" x2="478.80" y2="194.70" stroke="#231f20" stroke-width="1.15"/>
<line x1="499.10" y1="184.98" x2="499.10" y2="192.59" stroke="#231f20" stroke-width="0.95"/>
<line x1="495.10" y1="184.98" x2="503.10" y2="184.98" stroke="#231f20" stroke-width="1.15"/>
<line x1="499.10" y1="227.14" x2="499.10" y2="235.60" stroke="#231f20" stroke-width="0.95"/>
<line x1="495.10" y1="227.14" x2="503.10" y2="227.14" stroke="#231f20" stroke-width="1.15"/>
<polyline points="426.40,167.00 426.40,164.70 499.10,164.70 499.10,167.00" fill="none" stroke="#231f20" stroke-width="1.0"/>
<text x="463.40" y="165.28" font-size="7.6" text-anchor="middle">**</text>
<polyline points="450.70,175.00 450.70,172.70 499.10,172.70 499.10,175.00" fill="none" stroke="#231f20" stroke-width="1.0"/>
<text x="474.90" y="172.98" font-size="7.6" text-anchor="middle">**</text>
<polyline points="474.80,182.10 474.80,179.80 499.10,179.80 499.10,182.10" fill="none" stroke="#231f20" stroke-width="1.0"/>
<text x="487.10" y="179.88" font-size="7.6" text-anchor="middle">**</text>
<text x="413.80" y="260.80" font-size="8.2" text-anchor="end" textLength="34.1" lengthAdjust="spacingAndGlyphs">Dasatinib</text>
<text x="413.80" y="270.60" font-size="8.2" text-anchor="end" textLength="46.3" lengthAdjust="spacingAndGlyphs">Temsirolimus</text>
<text x="426.40" y="260.80" font-size="8.4" text-anchor="middle">–</text>
<text x="426.40" y="270.30" font-size="8.4" text-anchor="middle">–</text>
<text x="450.70" y="260.80" font-size="8.4" text-anchor="middle">+</text>
<text x="450.70" y="270.30" font-size="8.4" text-anchor="middle">–</text>
<text x="474.80" y="260.80" font-size="8.4" text-anchor="middle">–</text>
<text x="474.80" y="270.30" font-size="8.4" text-anchor="middle">+</text>
<text x="499.10" y="260.80" font-size="8.4" text-anchor="middle">+</text>
<text x="499.10" y="270.30" font-size="8.4" text-anchor="middle">+</text>
<rect x="369.70" y="282.20" width="5.90" height="5.90" fill="#cd1333"/>
<text x="377.80" y="287.80" font-size="8.2" text-anchor="start" textLength="53.6" lengthAdjust="spacingAndGlyphs">Annexin V+/PI+</text>
<rect x="436.90" y="282.20" width="5.90" height="5.90" fill="#3ab54e"/>
<text x="446.80" y="287.80" font-size="8.2" text-anchor="start" textLength="38.7" lengthAdjust="spacingAndGlyphs">Annexin V+</text>
<rect x="489.90" y="282.20" width="5.90" height="5.90" fill="#18548e"/>
<text x="498.50" y="287.80" font-size="8.2" text-anchor="start" textLength="22.5" lengthAdjust="spacingAndGlyphs">Viable</text>
<line x1="256.30" y1="333.40" x2="256.30" y2="399.80" stroke="#231f20" stroke-width="1.25"/>
<line x1="252.90" y1="399.20" x2="256.30" y2="399.20" stroke="#231f20" stroke-width="0.95"/>
<text x="249.30" y="402.00" font-size="8.2" text-anchor="end" textLength="4.0" lengthAdjust="spacingAndGlyphs">0</text>
<line x1="252.90" y1="387.24" x2="256.30" y2="387.24" stroke="#231f20" stroke-width="0.95"/>
<text x="249.30" y="390.04" font-size="8.2" text-anchor="end" textLength="8.01" lengthAdjust="spacingAndGlyphs">20</text>
<line x1="252.90" y1="375.28" x2="256.30" y2="375.28" stroke="#231f20" stroke-width="0.95"/>
<text x="249.30" y="378.08" font-size="8.2" text-anchor="end" textLength="8.01" lengthAdjust="spacingAndGlyphs">40</text>
<line x1="252.90" y1="363.32" x2="256.30" y2="363.32" stroke="#231f20" stroke-width="0.95"/>
<text x="249.30" y="366.12" font-size="8.2" text-anchor="end" textLength="8.01" lengthAdjust="spacingAndGlyphs">60</text>
<line x1="252.90" y1="351.36" x2="256.30" y2="351.36" stroke="#231f20" stroke-width="0.95"/>
<text x="249.30" y="354.16" font-size="8.2" text-anchor="end" textLength="8.01" lengthAdjust="spacingAndGlyphs">80</text>
<line x1="252.90" y1="339.40" x2="256.30" y2="339.40" stroke="#231f20" stroke-width="0.95"/>
<text x="249.30" y="342.20" font-size="8.2" text-anchor="end" textLength="12.01" lengthAdjust="spacingAndGlyphs">100</text>
<line x1="255.70" y1="399.20" x2="356.50" y2="399.20" stroke="#231f20" stroke-width="1.25"/>
<text transform="translate(231.70,366.20) rotate(-90)" font-size="10.0" text-anchor="middle" textLength="32.2" lengthAdjust="spacingAndGlyphs">% of cells</text>
<line x1="268.70" y1="399.20" x2="268.70" y2="402.40" stroke="#231f20" stroke-width="0.95"/>
<rect x="260.20" y="367.81" width="17.00" height="31.39" fill="#18548e"/>
<rect x="260.20" y="350.76" width="17.00" height="17.04" fill="#3ab54e"/>
<rect x="260.20" y="340.60" width="17.00" height="10.17" fill="#cd1333"/>
<line x1="293.80" y1="399.20" x2="293.80" y2="402.40" stroke="#231f20" stroke-width="0.95"/>
<rect x="285.30" y="362.12" width="17.00" height="37.08" fill="#18548e"/>
<rect x="285.30" y="348.37" width="17.00" height="13.75" fill="#3ab54e"/>
<rect x="285.30" y="340.30" width="17.00" height="8.07" fill="#cd1333"/>
<line x1="318.80" y1="399.20" x2="318.80" y2="402.40" stroke="#231f20" stroke-width="0.95"/>
<rect x="310.30" y="361.53" width="17.00" height="37.67" fill="#18548e"/>
<rect x="310.30" y="348.97" width="17.00" height="12.56" fill="#3ab54e"/>
<rect x="310.30" y="340.30" width="17.00" height="8.67" fill="#cd1333"/>
<line x1="343.80" y1="399.20" x2="343.80" y2="402.40" stroke="#231f20" stroke-width="0.95"/>
<rect x="335.30" y="355.84" width="17.00" height="43.35" fill="#18548e"/>
<rect x="335.30" y="348.37" width="17.00" height="7.47" fill="#3ab54e"/>
<rect x="335.30" y="340.30" width="17.00" height="8.07" fill="#cd1333"/>
<line x1="268.70" y1="340.30" x2="268.70" y2="340.89" stroke="#231f20" stroke-width="0.95"/>
<line x1="264.70" y1="340.30" x2="272.70" y2="340.30" stroke="#231f20" stroke-width="1.15"/>
<line x1="268.70" y1="349.87" x2="268.70" y2="350.76" stroke="#231f20" stroke-width="0.95"/>
<line x1="264.70" y1="349.87" x2="272.70" y2="349.87" stroke="#231f20" stroke-width="1.15"/>
<line x1="268.70" y1="366.61" x2="268.70" y2="367.81" stroke="#231f20" stroke-width="0.95"/>
<line x1="264.70" y1="366.61" x2="272.70" y2="366.61" stroke="#231f20" stroke-width="1.15"/>
<line x1="293.80" y1="340.00" x2="293.80" y2="340.60" stroke="#231f20" stroke-width="0.95"/>
<line x1="289.80" y1="340.00" x2="297.80" y2="340.00" stroke="#231f20" stroke-width="1.15"/>
<line x1="293.80" y1="347.77" x2="293.80" y2="348.37" stroke="#231f20" stroke-width="0.95"/>
<line x1="289.80" y1="347.77" x2="297.80" y2="347.77" stroke="#231f20" stroke-width="1.15"/>
<line x1="293.80" y1="361.23" x2="293.80" y2="362.12" stroke="#231f20" stroke-width="0.95"/>
<line x1="289.80" y1="361.23" x2="297.80" y2="361.23" stroke="#231f20" stroke-width="1.15"/>
<line x1="318.80" y1="340.00" x2="318.80" y2="340.60" stroke="#231f20" stroke-width="0.95"/>
<line x1="314.80" y1="340.00" x2="322.80" y2="340.00" stroke="#231f20" stroke-width="1.15"/>
<line x1="318.80" y1="348.07" x2="318.80" y2="348.97" stroke="#231f20" stroke-width="0.95"/>
<line x1="314.80" y1="348.07" x2="322.80" y2="348.07" stroke="#231f20" stroke-width="1.15"/>
<line x1="318.80" y1="360.63" x2="318.80" y2="361.53" stroke="#231f20" stroke-width="0.95"/>
<line x1="314.80" y1="360.63" x2="322.80" y2="360.63" stroke="#231f20" stroke-width="1.15"/>
<line x1="343.80" y1="339.40" x2="343.80" y2="340.30" stroke="#231f20" stroke-width="0.95"/>
<line x1="339.80" y1="339.40" x2="347.80" y2="339.40" stroke="#231f20" stroke-width="1.15"/>
<line x1="343.80" y1="347.17" x2="343.80" y2="348.37" stroke="#231f20" stroke-width="0.95"/>
<line x1="339.80" y1="347.17" x2="347.80" y2="347.17" stroke="#231f20" stroke-width="1.15"/>
<line x1="343.80" y1="354.65" x2="343.80" y2="355.84" stroke="#231f20" stroke-width="0.95"/>
<line x1="339.80" y1="354.65" x2="347.80" y2="354.65" stroke="#231f20" stroke-width="1.15"/>
<polyline points="268.70,326.90 268.70,324.60 343.80,324.60 343.80,326.90" fill="none" stroke="#231f20" stroke-width="1.0"/>
<text x="306.20" y="324.78" font-size="7.6" text-anchor="middle">**</text>
<polyline points="293.80,335.00 293.80,332.70 343.80,332.70 343.80,335.00" fill="none" stroke="#231f20" stroke-width="1.0"/>
<text x="318.40" y="333.48" font-size="7.6" text-anchor="middle">**</text>
<text x="258.70" y="411.70" font-size="8.2" text-anchor="end" textLength="34.1" lengthAdjust="spacingAndGlyphs">Dasatinib</text>
<text x="258.70" y="421.50" font-size="8.2" text-anchor="end" textLength="46.3" lengthAdjust="spacingAndGlyphs">Temsirolimus</text>
<text x="268.70" y="412.50" font-size="8.4" text-anchor="middle">–</text>
<text x="268.70" y="422.00" font-size="8.4" text-anchor="middle">–</text>
<text x="293.80" y="412.50" font-size="8.4" text-anchor="middle">+</text>
<text x="293.80" y="422.00" font-size="8.4" text-anchor="middle">–</text>
<text x="318.80" y="412.50" font-size="8.4" text-anchor="middle">–</text>
<text x="318.80" y="422.00" font-size="8.4" text-anchor="middle">+</text>
<text x="343.80" y="412.50" font-size="8.4" text-anchor="middle">+</text>
<text x="343.80" y="422.00" font-size="8.4" text-anchor="middle">+</text>
<rect x="263.80" y="435.40" width="5.90" height="5.90" fill="#cd1333"/>
<text x="272.30" y="441.00" font-size="8.2" text-anchor="start" textLength="20.0" lengthAdjust="spacingAndGlyphs">G2/M</text>
<rect x="296.90" y="435.40" width="5.90" height="5.90" fill="#3ab54e"/>
<text x="306.00" y="441.00" font-size="8.2" text-anchor="start" textLength="4.4" lengthAdjust="spacingAndGlyphs">S</text>
<rect x="317.10" y="435.40" width="5.90" height="5.90" fill="#18548e"/>
<text x="324.60" y="441.00" font-size="8.2" text-anchor="start" textLength="24.0" lengthAdjust="spacingAndGlyphs">G1/G0</text>
<line x1="410.80" y1="331.90" x2="410.80" y2="400.30" stroke="#231f20" stroke-width="1.25"/>
<line x1="407.40" y1="399.70" x2="410.80" y2="399.70" stroke="#231f20" stroke-width="0.95"/>
<text x="403.80" y="402.50" font-size="8.2" text-anchor="end" textLength="4.0" lengthAdjust="spacingAndGlyphs">0</text>
<line x1="407.40" y1="387.32" x2="410.80" y2="387.32" stroke="#231f20" stroke-width="0.95"/>
<text x="403.80" y="390.12" font-size="8.2" text-anchor="end" textLength="8.01" lengthAdjust="spacingAndGlyphs">20</text>
<line x1="407.40" y1="374.94" x2="410.80" y2="374.94" stroke="#231f20" stroke-width="0.95"/>
<text x="403.80" y="377.74" font-size="8.2" text-anchor="end" textLength="8.01" lengthAdjust="spacingAndGlyphs">40</text>
<line x1="407.40" y1="362.56" x2="410.80" y2="362.56" stroke="#231f20" stroke-width="0.95"/>
<text x="403.80" y="365.36" font-size="8.2" text-anchor="end" textLength="8.01" lengthAdjust="spacingAndGlyphs">60</text>
<line x1="407.40" y1="350.18" x2="410.80" y2="350.18" stroke="#231f20" stroke-width="0.95"/>
<text x="403.80" y="352.98" font-size="8.2" text-anchor="end" textLength="8.01" lengthAdjust="spacingAndGlyphs">80</text>
<line x1="407.40" y1="337.80" x2="410.80" y2="337.80" stroke="#231f20" stroke-width="0.95"/>
<text x="403.80" y="340.60" font-size="8.2" text-anchor="end" textLength="12.01" lengthAdjust="spacingAndGlyphs">100</text>
<line x1="410.20" y1="399.70" x2="510.80" y2="399.70" stroke="#231f20" stroke-width="1.25"/>
<text transform="translate(386.50,366.20) rotate(-90)" font-size="10.0" text-anchor="middle" textLength="32.2" lengthAdjust="spacingAndGlyphs">% of cells</text>
<line x1="423.70" y1="399.70" x2="423.70" y2="402.90" stroke="#231f20" stroke-width="0.95"/>
<rect x="415.30" y="340.28" width="16.80" height="59.42" fill="#18548e"/>
<rect x="415.30" y="339.04" width="16.80" height="1.24" fill="#cd1333"/>
<line x1="449.40" y1="399.70" x2="449.40" y2="402.90" stroke="#231f20" stroke-width="0.95"/>
<rect x="441.00" y="345.85" width="16.80" height="53.85" fill="#18548e"/>
<rect x="441.00" y="342.44" width="16.80" height="3.40" fill="#3ab54e"/>
<rect x="441.00" y="338.42" width="16.80" height="4.02" fill="#cd1333"/>
<line x1="475.00" y1="399.70" x2="475.00" y2="402.90" stroke="#231f20" stroke-width="0.95"/>
<rect x="466.60" y="342.13" width="16.80" height="57.57" fill="#18548e"/>
<rect x="466.60" y="339.97" width="16.80" height="2.17" fill="#3ab54e"/>
<rect x="466.60" y="339.04" width="16.80" height="0.93" fill="#cd1333"/>
<line x1="500.70" y1="399.70" x2="500.70" y2="402.90" stroke="#231f20" stroke-width="0.95"/>
<rect x="492.30" y="358.85" width="16.80" height="40.85" fill="#18548e"/>
<rect x="492.30" y="348.32" width="16.80" height="10.52" fill="#3ab54e"/>
<rect x="492.30" y="339.04" width="16.80" height="9.29" fill="#cd1333"/>
<line x1="423.70" y1="338.42" x2="423.70" y2="340.28" stroke="#231f20" stroke-width="0.95"/>
<line x1="419.70" y1="338.42" x2="427.70" y2="338.42" stroke="#231f20" stroke-width="1.15"/>
<line x1="449.40" y1="338.11" x2="449.40" y2="343.99" stroke="#231f20" stroke-width="0.95"/>
<line x1="445.40" y1="338.11" x2="453.40" y2="338.11" stroke="#231f20" stroke-width="1.15"/>
<line x1="475.00" y1="338.42" x2="475.00" y2="340.28" stroke="#231f20" stroke-width="0.95"/>
<line x1="471.00" y1="338.42" x2="479.00" y2="338.42" stroke="#231f20" stroke-width="1.15"/>
<line x1="500.70" y1="337.18" x2="500.70" y2="339.04" stroke="#231f20" stroke-width="0.95"/>
<line x1="496.70" y1="337.18" x2="504.70" y2="337.18" stroke="#231f20" stroke-width="1.15"/>
<line x1="500.70" y1="342.26" x2="500.70" y2="347.70" stroke="#231f20" stroke-width="0.95"/>
<line x1="496.70" y1="342.26" x2="504.70" y2="342.26" stroke="#231f20" stroke-width="1.15"/>
<line x1="500.70" y1="351.79" x2="500.70" y2="358.35" stroke="#231f20" stroke-width="0.95"/>
<line x1="496.70" y1="351.79" x2="504.70" y2="351.79" stroke="#231f20" stroke-width="1.15"/>
<polyline points="423.70,319.90 423.70,317.60 500.50,317.60 500.50,319.90" fill="none" stroke="#231f20" stroke-width="1.0"/>
<text x="461.90" y="317.68" font-size="7.6" text-anchor="middle">**</text>
<polyline points="449.10,327.20 449.10,324.90 500.50,324.90 500.50,327.20" fill="none" stroke="#231f20" stroke-width="1.0"/>
<text x="474.90" y="324.98" font-size="7.6" text-anchor="middle">*</text>
<polyline points="474.90,334.10 474.90,331.80 500.50,331.80 500.50,334.10" fill="none" stroke="#231f20" stroke-width="1.0"/>
<text x="487.70" y="332.58" font-size="7.6" text-anchor="middle">**</text>
<text x="413.80" y="411.70" font-size="8.2" text-anchor="end" textLength="34.1" lengthAdjust="spacingAndGlyphs">Dasatinib</text>
<text x="413.80" y="421.50" font-size="8.2" text-anchor="end" textLength="46.3" lengthAdjust="spacingAndGlyphs">Temsirolimus</text>
<text x="423.70" y="412.50" font-size="8.4" text-anchor="middle">–</text>
<text x="423.70" y="422.00" font-size="8.4" text-anchor="middle">–</text>
<text x="449.40" y="412.50" font-size="8.4" text-anchor="middle">+</text>
<text x="449.40" y="422.00" font-size="8.4" text-anchor="middle">–</text>
<text x="475.00" y="412.50" font-size="8.4" text-anchor="middle">–</text>
<text x="475.00" y="422.00" font-size="8.4" text-anchor="middle">+</text>
<text x="500.70" y="412.50" font-size="8.4" text-anchor="middle">+</text>
<text x="500.70" y="422.00" font-size="8.4" text-anchor="middle">+</text>
<rect x="369.70" y="435.40" width="5.90" height="5.90" fill="#cd1333"/>
<text x="377.80" y="441.00" font-size="8.2" text-anchor="start" textLength="53.6" lengthAdjust="spacingAndGlyphs">Annexin V+/PI+</text>
<rect x="436.90" y="435.40" width="5.90" height="5.90" fill="#3ab54e"/>
<text x="446.80" y="441.00" font-size="8.2" text-anchor="start" textLength="38.7" lengthAdjust="spacingAndGlyphs">Annexin V+</text>
<rect x="489.90" y="435.40" width="5.90" height="5.90" fill="#18548e"/>
<text x="498.50" y="441.00" font-size="8.2" text-anchor="start" textLength="22.5" lengthAdjust="spacingAndGlyphs">Viable</text>
</svg>
</body></html>
